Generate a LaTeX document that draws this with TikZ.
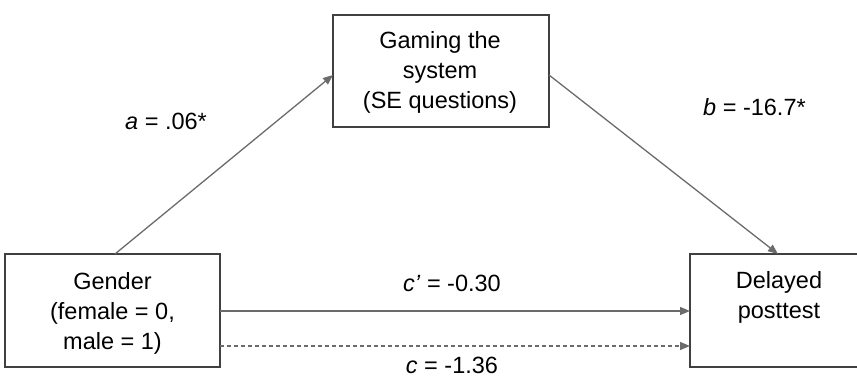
\documentclass[tikz,border=0pt]{standalone}
\usepackage{fontspec}
\setmainfont{Liberation Sans}
\usetikzlibrary{arrows.meta}
\begin{document}
\begin{tikzpicture}[x=1pt,y=-1pt,
  box/.style={draw=black!75, line width=1.3pt, fill=white, inner sep=0pt},
  boxtext/.style={align=center, font=\fontsize{23.5}{30}\selectfont, inner sep=0pt},
  lbl/.style={font=\fontsize{23.5}{28}\selectfont, inner sep=0pt},
  conn/.style={draw=black!58, line width=1.3pt, -{Triangle[length=10pt,width=8pt]}}
]
\useasboundingbox (0,0) rectangle (857,379);
\node[box, minimum width=215pt, minimum height=113pt] (gender) at (112.5,310.5) {};
\node[boxtext] (gendert) at (112.5,313) {Gender\\(female = 0,\\male = 1)};
\node[box, minimum width=216pt, minimum height=112pt] (gaming) at (441,71) {};
\node[boxtext] (gamingt) at (440,72) {Gaming the\\system\\(SE questions)};
\node[box, minimum width=180pt, minimum height=113pt] (delayed) at (780,310.5) {};
\node[boxtext] (delayedt) at (779,297) {Delayed\\posttest};
\coordinate (g1) at (115,254);
\coordinate (m1) at (333,75);
\coordinate (m2) at (549,75);
\coordinate (d1) at (778,254);
\coordinate (gc1) at (220,311);
\coordinate (dc1) at (690,311);
\coordinate (gc2) at (220,346);
\coordinate (dc2) at (690,346);
\draw[conn] (g1) -- (m1);
\draw[conn] (m2) -- (d1);
\draw[conn] (gc1) -- (dc1);
\draw[conn, dash pattern=on 4pt off 3pt] (gc2) -- (dc2);
\node[lbl, anchor=west] (la) at (125,121) {\textit{a} = .06*};
\node[lbl, anchor=west] (lb) at (703,107) {\textit{b} = -16.7*};
\node[lbl] (lcp) at (452,283) {\textit{c’} = -0.30};
\node[lbl] (lc) at (452,365) {\textit{c} = -1.36};
\end{tikzpicture}
\end{document}
